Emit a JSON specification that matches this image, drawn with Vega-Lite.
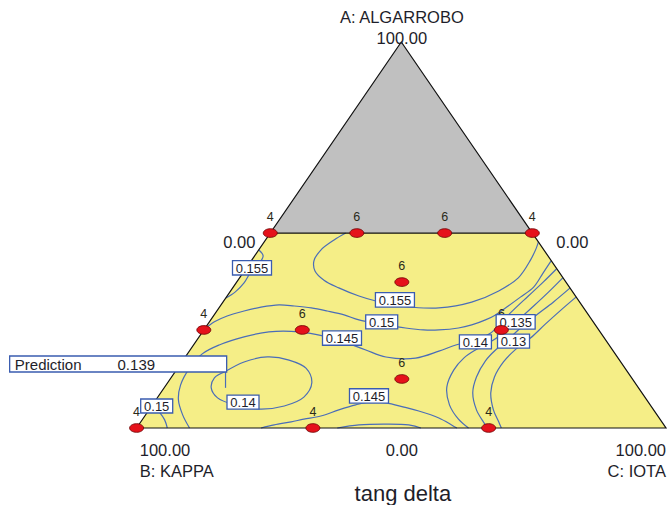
{
  "$schema": "https://vega.github.io/schema/vega-lite/v6.json",
  "width": 669,
  "height": 505,
  "autosize": {"type": "fit", "contains": "padding"},
  "padding": 0,
  "background": "white",
  "config": {"view": {"stroke": null}, "text": {"font": "Liberation Sans", "color": "#1e1e2a"}},
  "datasets": {
    "region": [
      {"part": "yellow", "x": 0, "y": 0, "y2": 0},
      {"part": "yellow", "x": 25.25, "y": 50.5, "y2": 0},
      {"part": "yellow", "x": 74.75, "y": 50.5, "y2": 0},
      {"part": "yellow", "x": 100, "y": 0, "y2": 0},
      {"part": "gray", "x": 25.25, "y": 50.5, "y2": 50.5},
      {"part": "gray", "x": 50, "y": 100, "y2": 50.5},
      {"part": "gray", "x": 74.75, "y": 50.5, "y2": 50.5}
    ],
    "edges": [
      {"id": "tri", "s": 0, "x": 0, "y": 0},
      {"id": "tri", "s": 1, "x": 50, "y": 100},
      {"id": "tri", "s": 2, "x": 100, "y": 0},
      {"id": "tri", "s": 3, "x": 0, "y": 0},
      {"id": "cut", "s": 0, "x": 25.25, "y": 50.5},
      {"id": "cut", "s": 1, "x": 74.75, "y": 50.5}
    ],
    "contours": [
      {"id": "c155a", "s": 0, "x": 39.5, "y": 50.5},
      {"id": "c155a", "s": 1, "x": 37.3, "y": 48.7},
      {"id": "c155a", "s": 2, "x": 34.8, "y": 46.1},
      {"id": "c155a", "s": 3, "x": 33.5, "y": 43.3},
      {"id": "c155a", "s": 4, "x": 33.7, "y": 40.7},
      {"id": "c155a", "s": 5, "x": 35.4, "y": 38.3},
      {"id": "c155a", "s": 6, "x": 38.2, "y": 36.3},
      {"id": "c155a", "s": 7, "x": 42.0, "y": 34.2},
      {"id": "c155a", "s": 8, "x": 45.2, "y": 32.9},
      {"id": "c155a", "s": 9, "x": 48.6, "y": 31.9},
      {"id": "c155a", "s": 10, "x": 52.0, "y": 31.3},
      {"id": "c155a", "s": 11, "x": 57.1, "y": 31.1},
      {"id": "c155a", "s": 12, "x": 63.3, "y": 32.6},
      {"id": "c155a", "s": 13, "x": 68.4, "y": 35.5},
      {"id": "c155a", "s": 14, "x": 72.1, "y": 38.9},
      {"id": "c155a", "s": 15, "x": 74.4, "y": 43.5},
      {"id": "c155a", "s": 16, "x": 75.5, "y": 46.6},
      {"id": "c155a", "s": 17, "x": 75.9, "y": 48.2},
      {"id": "c155b", "s": 0, "x": 23.1, "y": 46.1},
      {"id": "c155b", "s": 1, "x": 23.9, "y": 44.6},
      {"id": "c155b", "s": 2, "x": 23.2, "y": 42.7},
      {"id": "c155b", "s": 3, "x": 21.8, "y": 40.9},
      {"id": "c155b", "s": 4, "x": 20.3, "y": 37.6},
      {"id": "c155b", "s": 5, "x": 18.6, "y": 35.2},
      {"id": "c155b", "s": 6, "x": 16.9, "y": 33.7},
      {"id": "c150", "s": 0, "x": 12.8, "y": 25.6},
      {"id": "c150", "s": 1, "x": 14.7, "y": 27.5},
      {"id": "c150", "s": 2, "x": 17.1, "y": 29.0},
      {"id": "c150", "s": 3, "x": 20.3, "y": 30.3},
      {"id": "c150", "s": 4, "x": 23.5, "y": 31.3},
      {"id": "c150", "s": 5, "x": 26.9, "y": 31.9},
      {"id": "c150", "s": 6, "x": 29.8, "y": 31.6},
      {"id": "c150", "s": 7, "x": 33.0, "y": 31.1},
      {"id": "c150", "s": 8, "x": 36.0, "y": 30.3},
      {"id": "c150", "s": 9, "x": 39.2, "y": 29.3},
      {"id": "c150", "s": 10, "x": 42.0, "y": 28.0},
      {"id": "c150", "s": 11, "x": 46.3, "y": 26.9},
      {"id": "c150", "s": 12, "x": 50.8, "y": 25.9},
      {"id": "c150", "s": 13, "x": 54.2, "y": 25.4},
      {"id": "c150", "s": 14, "x": 57.1, "y": 25.4},
      {"id": "c150", "s": 15, "x": 60.8, "y": 25.9},
      {"id": "c150", "s": 16, "x": 63.3, "y": 26.7},
      {"id": "c150", "s": 17, "x": 65.9, "y": 28.0},
      {"id": "c150", "s": 18, "x": 67.8, "y": 29.3},
      {"id": "c150", "s": 19, "x": 70.2, "y": 31.6},
      {"id": "c150", "s": 20, "x": 72.5, "y": 33.9},
      {"id": "c150", "s": 21, "x": 75.0, "y": 36.5},
      {"id": "c150", "s": 22, "x": 76.8, "y": 40.2},
      {"id": "c150", "s": 23, "x": 78.3, "y": 43.3},
      {"id": "c145a", "s": 0, "x": 10.0, "y": 0},
      {"id": "c145a", "s": 1, "x": 8.7, "y": 3.4},
      {"id": "c145a", "s": 2, "x": 7.9, "y": 7.3},
      {"id": "c145a", "s": 3, "x": 8.3, "y": 11.1},
      {"id": "c145a", "s": 4, "x": 10.0, "y": 15.5},
      {"id": "c145a", "s": 5, "x": 12.4, "y": 19.2},
      {"id": "c145a", "s": 6, "x": 15.6, "y": 21.5},
      {"id": "c145a", "s": 7, "x": 20.3, "y": 23.6},
      {"id": "c145a", "s": 8, "x": 25.0, "y": 24.9},
      {"id": "c145a", "s": 9, "x": 30.7, "y": 24.9},
      {"id": "c145a", "s": 10, "x": 35.4, "y": 23.8},
      {"id": "c145a", "s": 11, "x": 39.2, "y": 22.3},
      {"id": "c145a", "s": 12, "x": 43.3, "y": 20.2},
      {"id": "c145a", "s": 13, "x": 47.1, "y": 18.4},
      {"id": "c145a", "s": 14, "x": 52.7, "y": 18.1},
      {"id": "c145a", "s": 15, "x": 57.1, "y": 19.9},
      {"id": "c145a", "s": 16, "x": 60.3, "y": 21.5},
      {"id": "c145a", "s": 17, "x": 64.0, "y": 22.8},
      {"id": "c145a", "s": 18, "x": 66.9, "y": 24.6},
      {"id": "c145a", "s": 19, "x": 68.9, "y": 27.5},
      {"id": "c145a", "s": 20, "x": 71.2, "y": 30.6},
      {"id": "c145a", "s": 21, "x": 74.0, "y": 34.2},
      {"id": "c145a", "s": 22, "x": 76.8, "y": 37.8},
      {"id": "c145a", "s": 23, "x": 79.3, "y": 41.2},
      {"id": "c140a", "s": 0, "x": 80.5, "y": 38.9},
      {"id": "c140a", "s": 1, "x": 77.8, "y": 35.2},
      {"id": "c140a", "s": 2, "x": 75.0, "y": 31.6},
      {"id": "c140a", "s": 3, "x": 72.1, "y": 28.0},
      {"id": "c140a", "s": 4, "x": 69.3, "y": 24.6},
      {"id": "c140a", "s": 5, "x": 66.5, "y": 22.0},
      {"id": "c140a", "s": 6, "x": 64.0, "y": 20.2},
      {"id": "c140a", "s": 7, "x": 61.8, "y": 18.1},
      {"id": "c140a", "s": 8, "x": 59.9, "y": 15.0},
      {"id": "c140a", "s": 9, "x": 58.6, "y": 10.6},
      {"id": "c140a", "s": 10, "x": 59.1, "y": 6.0},
      {"id": "c140a", "s": 11, "x": 60.8, "y": 2.3},
      {"id": "c140a", "s": 12, "x": 62.7, "y": 0},
      {"id": "c135", "s": 0, "x": 81.9, "y": 36.3},
      {"id": "c135", "s": 1, "x": 78.7, "y": 32.6},
      {"id": "c135", "s": 2, "x": 75.3, "y": 29.0},
      {"id": "c135", "s": 3, "x": 72.1, "y": 25.4},
      {"id": "c135", "s": 4, "x": 69.7, "y": 22.3},
      {"id": "c135", "s": 5, "x": 67.8, "y": 20.2},
      {"id": "c135", "s": 6, "x": 65.9, "y": 17.4},
      {"id": "c135", "s": 7, "x": 64.2, "y": 13.2},
      {"id": "c135", "s": 8, "x": 63.5, "y": 9.1},
      {"id": "c135", "s": 9, "x": 64.2, "y": 4.7},
      {"id": "c135", "s": 10, "x": 65.5, "y": 1.6},
      {"id": "c135", "s": 11, "x": 66.3, "y": 0},
      {"id": "c130", "s": 0, "x": 83.0, "y": 33.9},
      {"id": "c130", "s": 1, "x": 80.2, "y": 30.6},
      {"id": "c130", "s": 2, "x": 77.2, "y": 26.9},
      {"id": "c130", "s": 3, "x": 74.4, "y": 23.3},
      {"id": "c130", "s": 4, "x": 71.7, "y": 20.5},
      {"id": "c130", "s": 5, "x": 69.3, "y": 17.1},
      {"id": "c130", "s": 6, "x": 67.6, "y": 13.2},
      {"id": "c130", "s": 7, "x": 66.9, "y": 9.1},
      {"id": "c130", "s": 8, "x": 67.4, "y": 4.7},
      {"id": "c130", "s": 9, "x": 68.4, "y": 1.6},
      {"id": "c130", "s": 10, "x": 68.9, "y": 0},
      {"id": "c140b", "s": 0, "x": 16.6, "y": 14.5},
      {"id": "c140b", "s": 1, "x": 20.3, "y": 17.1},
      {"id": "c140b", "s": 2, "x": 24.7, "y": 18.4},
      {"id": "c140b", "s": 3, "x": 28.8, "y": 17.6},
      {"id": "c140b", "s": 4, "x": 32.0, "y": 15.5},
      {"id": "c140b", "s": 5, "x": 33.1, "y": 11.7},
      {"id": "c140b", "s": 6, "x": 31.6, "y": 8.0},
      {"id": "c140b", "s": 7, "x": 27.9, "y": 5.7},
      {"id": "c140b", "s": 8, "x": 23.2, "y": 4.9},
      {"id": "c140b", "s": 9, "x": 18.5, "y": 6.0},
      {"id": "c140b", "s": 10, "x": 15.3, "y": 7.8},
      {"id": "c140b", "s": 11, "x": 14.1, "y": 10.4},
      {"id": "c140b", "s": 12, "x": 14.7, "y": 13.0},
      {"id": "c140b", "s": 13, "x": 16.6, "y": 14.5},
      {"id": "c150b", "s": 0, "x": 3.0, "y": 6.0},
      {"id": "c150b", "s": 1, "x": 4.3, "y": 4.1},
      {"id": "c150b", "s": 2, "x": 5.3, "y": 2.1},
      {"id": "c150b", "s": 3, "x": 5.8, "y": 0},
      {"id": "c145b", "s": 0, "x": 23.5, "y": 0},
      {"id": "c145b", "s": 1, "x": 26.0, "y": 0.8},
      {"id": "c145b", "s": 2, "x": 29.2, "y": 1.6},
      {"id": "c145b", "s": 3, "x": 31.6, "y": 2.3},
      {"id": "c145b", "s": 4, "x": 34.8, "y": 3.1},
      {"id": "c145b", "s": 5, "x": 38.2, "y": 4.7},
      {"id": "c145b", "s": 6, "x": 41.4, "y": 6.0},
      {"id": "c145b", "s": 7, "x": 43.9, "y": 6.7},
      {"id": "c145b", "s": 8, "x": 47.1, "y": 6.5},
      {"id": "c145b", "s": 9, "x": 50.5, "y": 5.4},
      {"id": "c145b", "s": 10, "x": 53.3, "y": 4.4},
      {"id": "c145b", "s": 11, "x": 57.1, "y": 2.6},
      {"id": "c145b", "s": 12, "x": 59.5, "y": 0.8},
      {"id": "c145b", "s": 13, "x": 60.5, "y": 0},
      {"id": "c140c", "s": 0, "x": 37.9, "y": 0},
      {"id": "c140c", "s": 1, "x": 42.0, "y": 0.8},
      {"id": "c140c", "s": 2, "x": 46.7, "y": 1.0},
      {"id": "c140c", "s": 3, "x": 51.4, "y": 0.8},
      {"id": "c140c", "s": 4, "x": 53.7, "y": 0},
      {"id": "ptr", "s": 0, "x": 16.8, "y": 14.5},
      {"id": "ptr", "s": 1, "x": 16.8, "y": 10.4}
    ],
    "labels": [
      {"x": 21.8, "y": 41.5, "t": "0.155"},
      {"x": 48.8, "y": 33.2, "t": "0.155"},
      {"x": 46.3, "y": 27.5, "t": "0.15"},
      {"x": 38.8, "y": 23.3, "t": "0.145"},
      {"x": 71.6, "y": 27.5, "t": "0.135"},
      {"x": 71.2, "y": 22.5, "t": "0.13"},
      {"x": 64.0, "y": 22.3, "t": "0.14"},
      {"x": 43.9, "y": 8.3, "t": "0.145"},
      {"x": 20.1, "y": 6.7, "t": "0.14"},
      {"x": 3.8, "y": 5.7, "t": "0.15"}
    ],
    "points": [
      {"x": 25.25, "y": 50.5, "n": "4"},
      {"x": 41.6, "y": 50.5, "n": "6"},
      {"x": 58.2, "y": 50.5, "n": "6"},
      {"x": 74.75, "y": 50.5, "n": "4"},
      {"x": 50.1, "y": 37.8, "n": "6"},
      {"x": 12.7, "y": 25.4, "n": "4"},
      {"x": 31.3, "y": 25.4, "n": "6"},
      {"x": 68.9, "y": 25.4, "n": "6"},
      {"x": 50.1, "y": 12.7, "n": "6"},
      {"x": 0, "y": 0, "n": "4"},
      {"x": 33.3, "y": 0, "n": "4"},
      {"x": 66.5, "y": 0, "n": "4"}
    ]
  },
  "encoding": {
    "x": {"field": "x", "type": "quantitative", "scale": {"domain": [-25.8, 100.19], "nice": false, "zero": false}, "axis": null},
    "y": {"field": "y", "type": "quantitative", "scale": {"domain": [-19.95, 110.88], "nice": false, "zero": false}, "axis": null}
  },
  "layer": [
    {
      "data": {"name": "region"},
      "transform": [{"filter": "datum.part == 'yellow'"}],
      "mark": {"type": "area", "color": "#f5ee87", "orient": "vertical"},
      "encoding": {"y": {"field": "y", "type": "quantitative", "stack": null}, "y2": {"field": "y2"}}
    },
    {
      "data": {"name": "region"},
      "transform": [{"filter": "datum.part == 'gray'"}],
      "mark": {"type": "area", "color": "#c0c0c0", "orient": "vertical"},
      "encoding": {"y": {"field": "y", "type": "quantitative", "stack": null}, "y2": {"field": "y2"}}
    },
    {
      "data": {"name": "contours"},
      "mark": {"type": "line", "color": "#4a6db8", "strokeWidth": 1.2, "interpolate": "catmull-rom"},
      "encoding": {"detail": {"field": "id"}, "order": {"field": "s", "type": "quantitative"}}
    },
    {
      "data": {"name": "edges"},
      "mark": {"type": "line", "color": "#111111", "strokeWidth": 1.2},
      "encoding": {"detail": {"field": "id"}, "order": {"field": "s", "type": "quantitative"}}
    },
    {
      "data": {"name": "points"},
      "mark": {"type": "text", "fontSize": 12.5, "dy": -16, "baseline": "middle", "align": "center", "color": "#2a2a1a"},
      "encoding": {"text": {"field": "n"}}
    },
    {
      "data": {"name": "labels"},
      "mark": {"type": "point", "filled": true, "fill": "white", "stroke": "#3a5cb0", "strokeWidth": 1.3, "opacity": 1, "size": 400},
      "encoding": {
        "shape": {"condition": {"test": "length(datum.t) > 4", "value": "M-1.95,-0.72H1.95V0.72H-1.95Z"}, "value": "M-1.6,-0.7H1.6V0.7H-1.6Z"}
      }
    },
    {
      "data": {"name": "labels"},
      "mark": {"type": "text", "fontSize": 13, "baseline": "middle", "align": "center", "dy": 1},
      "encoding": {"text": {"field": "t"}}
    },
    {
      "data": {"name": "points"},
      "mark": {"type": "point", "filled": true, "fill": "#e5121b", "stroke": "#6b0000", "strokeWidth": 0.8, "opacity": 1, "size": 196, "shape": "M-1,0A1,0.62,0,1,0,1,0A1,0.62,0,1,0,-1,0Z"}
    },
    {
      "data": {"values": [{"x": -3.48, "y": 16.58}]},
      "mark": {"type": "point", "filled": true, "fill": "white", "stroke": "#3a5cb0", "strokeWidth": 1.3, "opacity": 1, "size": 400, "shape": "M-10.85,-0.8H10.85V0.8H-10.85Z"}
    },
    {
      "data": {"values": [{"x": -23.0, "y": 16.3, "t": "Prediction"}, {"x": -3.6, "y": 16.3, "t": "0.139"}]},
      "mark": {"type": "text", "fontSize": 15, "baseline": "middle", "align": "left"},
      "encoding": {"text": {"field": "t"}}
    },
    {
      "data": {"values": [
        {"x": 50.1, "y": 106.3, "t": "A: ALGARROBO"},
        {"x": 50.1, "y": 100.8, "t": "100.00"},
        {"x": 19.4, "y": 47.9, "t": "0.00"},
        {"x": 82.3, "y": 47.9, "t": "0.00"},
        {"x": 50.1, "y": -6.0, "t": "0.00"}
      ]},
      "mark": {"type": "text", "fontSize": 16.5, "baseline": "middle", "align": "center"},
      "encoding": {"text": {"field": "t"}}
    },
    {
      "data": {"values": [
        {"x": 0.6, "y": -6.0, "t": "100.00"},
        {"x": 0.6, "y": -11.4, "t": "B: KAPPA"}
      ]},
      "mark": {"type": "text", "fontSize": 16.5, "baseline": "middle", "align": "left"},
      "encoding": {"text": {"field": "t"}}
    },
    {
      "data": {"values": [
        {"x": 100, "y": -6.0, "t": "100.00"},
        {"x": 100, "y": -11.4, "t": "C: IOTA"}
      ]},
      "mark": {"type": "text", "fontSize": 16.5, "baseline": "middle", "align": "right"},
      "encoding": {"text": {"field": "t"}}
    },
    {
      "data": {"values": [{"x": 50.3, "y": -17.1, "t": "tang delta"}]},
      "mark": {"type": "text", "fontSize": 22, "baseline": "middle", "align": "center"},
      "encoding": {"text": {"field": "t"}}
    }
  ]
}
